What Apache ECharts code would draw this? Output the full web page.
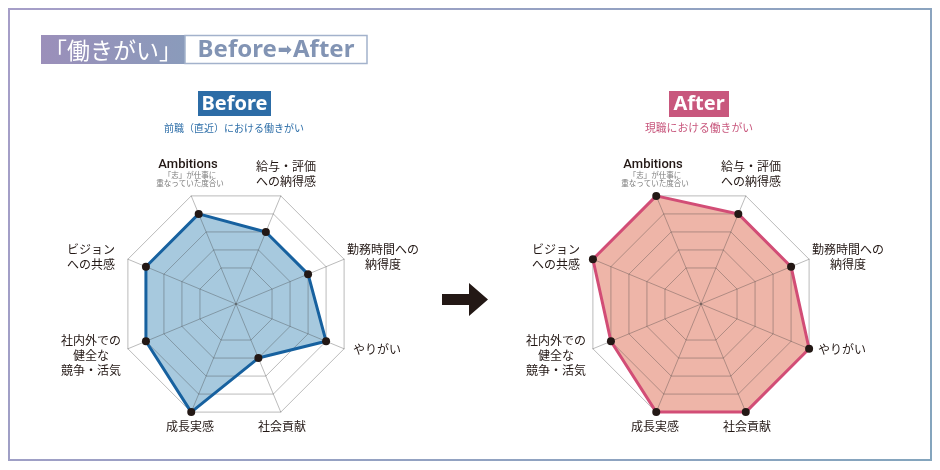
<!DOCTYPE html>
<html>
<head>
<meta charset="utf-8">
<script src="https://cdn.jsdelivr.net/npm/echarts@6/dist/echarts.min.js"></script>
<style>
  html, body { margin: 0; padding: 0; background: #fff; }
  #chart { width: 940px; height: 470px; }
</style>
</head>
<body>
<div id="chart"></div>
<script>
// ---- データ（反時計回り、Ambitions から） ----
var axisNames = [
  "Ambitions",
  "ビジョン\nへの共感",
  "社内外での\n健全な\n競争・活気",
  "成長実感",
  "社会貢献",
  "やりがい",
  "勤務時間への\n納得度",
  "給与・評価\nへの納得感"
];
var ambitionsNote = "「志」が仕事に\n重なっていた度合い";
var beforeValues = [5, 5, 5, 6, 3, 5, 4, 4];
var afterValues  = [6, 6, 5, 6, 6, 6, 5, 5];
var scaleMax = 6;

// ---- レイアウト（ラベル位置はレーダー中心からのオフセット） ----
var labelOffsets = [
  [-48, -139], [-145, -47], [-145, 51], [-46, 122],
  [46, 122], [141, 45], [147, -47], [50, -130]
];
var centers = { before: [236, 304], after: [701, 304] };
var JP = '"Noto Sans CJK JP", "Noto Sans", sans-serif';
var gridGray = "rgba(60,60,60,0.35)";

function radarCfg(c) {
  return {
    center: c, radius: 117, startAngle: 112.5, splitNumber: 6, shape: "polygon", z: 2,
    indicator: axisNames.map(function(n) { return { name: n, min: 0, max: scaleMax }; }),
    axisName: { show: false },
    splitArea: { show: false },
    splitLine: { lineStyle: { width: 1, color: ["rgba(0,0,0,0)", "rgba(0,0,0,0)", gridGray, gridGray, gridGray, gridGray, gridGray] } },
    axisLine: { lineStyle: { width: 1, color: gridGray } },
    axisTick: { show: false },
    axisLabel: { show: false }
  };
}

function seriesPair(idx, values, fill, line) {
  return [
    { type: "radar", radarIndex: idx, z: 1, silent: true, symbol: "none",
      lineStyle: { width: 0 }, areaStyle: { color: fill, opacity: 1 },
      data: [{ value: values }] },
    { type: "radar", radarIndex: idx, z: 3, symbol: "circle", symbolSize: 8,
      itemStyle: { color: "#231815", borderWidth: 0 },
      lineStyle: { color: line, width: 3 },
      data: [{ value: values }] }
  ];
}

function axisLabels(c) {
  var out = [];
  axisNames.forEach(function(n, i) {
    var o = labelOffsets[i];
    out.push({ type: "text", x: c[0] + o[0], y: c[1] + o[1], z: 10,
      style: { text: n, fill: "#231815", font: "12px " + JP, lineHeight: 15,
               align: "center", verticalAlign: "middle" } });
  });
  out.push({ type: "text", x: c[0] - 46, y: c[1] - 125, z: 10,
    style: { text: ambitionsNote, fill: "#7a7a7a", font: "7.5px " + JP, lineHeight: 8.5,
             align: "center", verticalAlign: "middle" } });
  // Ambitions は英字フォント
  out[0].style.font = "500 13px Roboto, sans-serif";
  return out;
}

var chart = echarts.init(document.getElementById("chart"), null, { renderer: "canvas" });

var graphics = [
  // 外枠
  { type: "rect", shape: { x: 9, y: 9, width: 922, height: 451 }, z: 0,
    style: { fill: "none", lineWidth: 2,
      stroke: new echarts.graphic.LinearGradient(0, 0, 1, 1, [
        { offset: 0, color: "#a69ec8" }, { offset: 1, color: "#84a5bd" }]) } },
  // タイトル
  { type: "rect", shape: { x: 41, y: 35, width: 144, height: 29 }, z: 5,
    style: { fill: new echarts.graphic.LinearGradient(0, 0, 1, 0, [
        { offset: 0, color: "#9b8fba" }, { offset: 1, color: "#8a9bbb" }]) } },
  { type: "text", x: 113, y: 50, z: 6,
    style: { text: "「働きがい」", fill: "#fff", font: "23px " + JP, align: "center", verticalAlign: "middle" } },
  { type: "rect", shape: { x: 185, y: 35.5, width: 182, height: 28 }, z: 5,
    style: { fill: "#fff", stroke: "#a3b2cc", lineWidth: 1.5 } },
  { type: "text", x: 276, y: 50, z: 6,
    style: { text: "{a|Before}{b|➡}{a|After}", align: "center", verticalAlign: "middle",
      rich: {
        a: { fill: "#8294b4", font: "bold 24px 'Noto Sans', sans-serif" },
        b: { fill: "#8294b4", font: "bold 17px 'DejaVu Sans', sans-serif", padding: [2, 1, 0, 1] }
      } } },
  // Before 見出し
  { type: "rect", shape: { x: 198, y: 91, width: 73, height: 25 }, z: 5, style: { fill: "#2c6ca6" } },
  { type: "text", x: 234.5, y: 104, z: 6,
    style: { text: "Before", fill: "#fff", font: "bold 20px 'Noto Sans', sans-serif", align: "center", verticalAlign: "middle" } },
  { type: "text", x: 234, y: 128, z: 6,
    style: { text: "前職（直近）における働きがい", fill: "#2d6ea8", font: "10px " + JP, align: "center", verticalAlign: "middle" } },
  // After 見出し
  { type: "rect", shape: { x: 669, y: 91, width: 60, height: 26 }, z: 5, style: { fill: "#c8577d" } },
  { type: "text", x: 699, y: 104, z: 6,
    style: { text: "After", fill: "#fff", font: "bold 20px 'Noto Sans', sans-serif", align: "center", verticalAlign: "middle" } },
  { type: "text", x: 699, y: 128, z: 6,
    style: { text: "現職における働きがい", fill: "#c8577d", font: "10.8px " + JP, align: "center", verticalAlign: "middle" } },
  // 矢印
  { type: "polygon", z: 5,
    shape: { points: [[442, 294], [469, 294], [469, 283], [488, 299.5], [469, 316], [469, 305], [442, 305]] },
    style: { fill: "#231815" } }
].concat(axisLabels(centers.before), axisLabels(centers.after));

chart.setOption({
  animation: false,
  radar: [radarCfg(centers.before), radarCfg(centers.after)],
  series: seriesPair(0, beforeValues, "#a7c9de", "#17619f")
    .concat(seriesPair(1, afterValues, "#eeb5a8", "#d24d76")),
  graphic: graphics
});
</script>
</body>
</html>
